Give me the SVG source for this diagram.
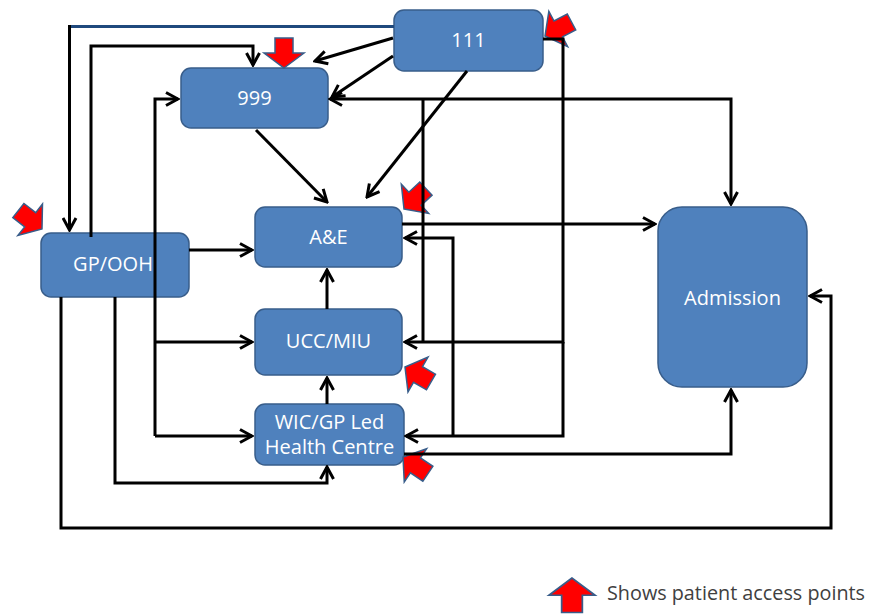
<svg xmlns="http://www.w3.org/2000/svg" xmlns:xlink="http://www.w3.org/1999/xlink" width="870" height="615" viewBox="0 0 870 615">
<style>
.box{fill:#4F81BD;stroke:#385D8A;stroke-width:1.5}
.lbl{font-family:"Open Sans","DejaVu Sans",sans-serif;font-size:20px;fill:#FFFFFF;text-anchor:middle}
.c{fill:none;stroke:#000;stroke-width:3;stroke-linejoin:miter}
.ca{fill:none;stroke:#000;stroke-width:3;marker-end:url(#ah)}
.cb{fill:none;stroke:#000;stroke-width:3;marker-end:url(#ah);marker-start:url(#ah)}
.red{fill:#FF0000;stroke:#385D8A;stroke-width:1.5;stroke-linejoin:miter}
.leg{font-family:"Open Sans","DejaVu Sans",sans-serif;font-size:19.8px;fill:#404040}
</style>
<defs>
<marker id="ah" viewBox="0 0 16 16" refX="14" refY="8" markerWidth="16" markerHeight="16" markerUnits="userSpaceOnUse" orient="auto-start-reverse">
<path d="M2,1.5 L14,8 L2,14.5" fill="none" stroke="#000" stroke-width="3"/>
</marker>
<path id="ra" d="M0,0 L-15,-20 L-15,-9 L-30,-9 L-30,9 L-15,9 L-15,20 Z"/>
</defs>
<rect width="870" height="615" fill="#FFFFFF"/>

<g id="n111"><rect class="box" x="394" y="10" width="149" height="61" rx="10"/><text class="lbl" x="468.5" y="47">111</text></g>
<g id="n999"><rect class="box" x="181" y="68" width="147" height="60" rx="10"/><text class="lbl" x="254.5" y="105">999</text></g>
<g id="nAE"><rect class="box" x="255" y="207" width="147" height="60" rx="10"/><text class="lbl" x="328.5" y="244">A&amp;E</text></g>
<g id="nGP"><rect class="box" x="41" y="233" width="148" height="64" rx="10"/><text class="lbl" x="113" y="271">GP/OOH</text></g>
<g id="nUCC"><rect class="box" x="255" y="309" width="147" height="66" rx="10"/><text class="lbl" x="328.5" y="348">UCC/MIU</text></g>
<g id="nWIC"><rect class="box" x="255" y="404" width="149" height="61" rx="10"/><text class="lbl" x="329.5" y="429">WIC/GP Led</text><text class="lbl" x="329.5" y="454">Health Centre</text></g>
<g id="nAdm"><rect class="box" x="658" y="207" width="149" height="180" rx="24"/><text class="lbl" x="732.5" y="305">Admission</text></g>

<g id="access-points">
<use xlink:href="#ra" class="red" transform="translate(284,68) rotate(90)"/>
<use xlink:href="#ra" class="red" transform="translate(545,36) rotate(152)"/>
<use xlink:href="#ra" class="red" transform="translate(404,209) rotate(137)"/>
<use xlink:href="#ra" class="red" transform="translate(42,229) rotate(38)"/>
<use xlink:href="#ra" class="red" transform="translate(405,367) rotate(210)"/>
<use xlink:href="#ra" class="red" transform="translate(403,457) rotate(214)"/>
</g>

<g id="connectors">
<path d="M394,26.5 H68" fill="none" stroke="#1F497D" stroke-width="3"/>
<path class="ca" d="M69.5,25 V230"/>
<path class="ca" d="M91,237 V46 H253 V65"/>
<path class="ca" d="M393,38 L315,61"/>
<path class="ca" d="M393,56 L332,97"/>
<path class="cb" d="M330,99 H731 V204"/>
<path class="c" d="M423,99 V342"/>
<path class="ca" d="M543,39 H563 V342 H405"/>
<path class="ca" d="M563,342 V436 H406"/>
<path class="ca" d="M453,436 V238 H405"/>
<path class="ca" d="M467,71 L367,197"/>
<path class="ca" d="M256,130 L327,202"/>
<path class="ca" d="M402,224 H655"/>
<path class="ca" d="M404,454 H731 V390"/>
<path class="ca" d="M61,297 V528 H831 V296 H810"/>
<path class="ca" d="M115,297 V483 H327 V467"/>
<path class="ca" d="M155,436 V99 H178"/>
<path class="ca" d="M155,342 H252"/>
<path class="ca" d="M155,436 H252"/>
<path class="ca" d="M189,250 H252"/>
<path class="ca" d="M327,309 V270"/>
<path class="ca" d="M327,404 V378"/>
</g>

<g id="legend">
<use xlink:href="#ra" class="red" transform="translate(572,578) rotate(-90) scale(1.15)"/>
<text class="leg" x="607" y="600">Shows patient access points</text>
</g>
</svg>
